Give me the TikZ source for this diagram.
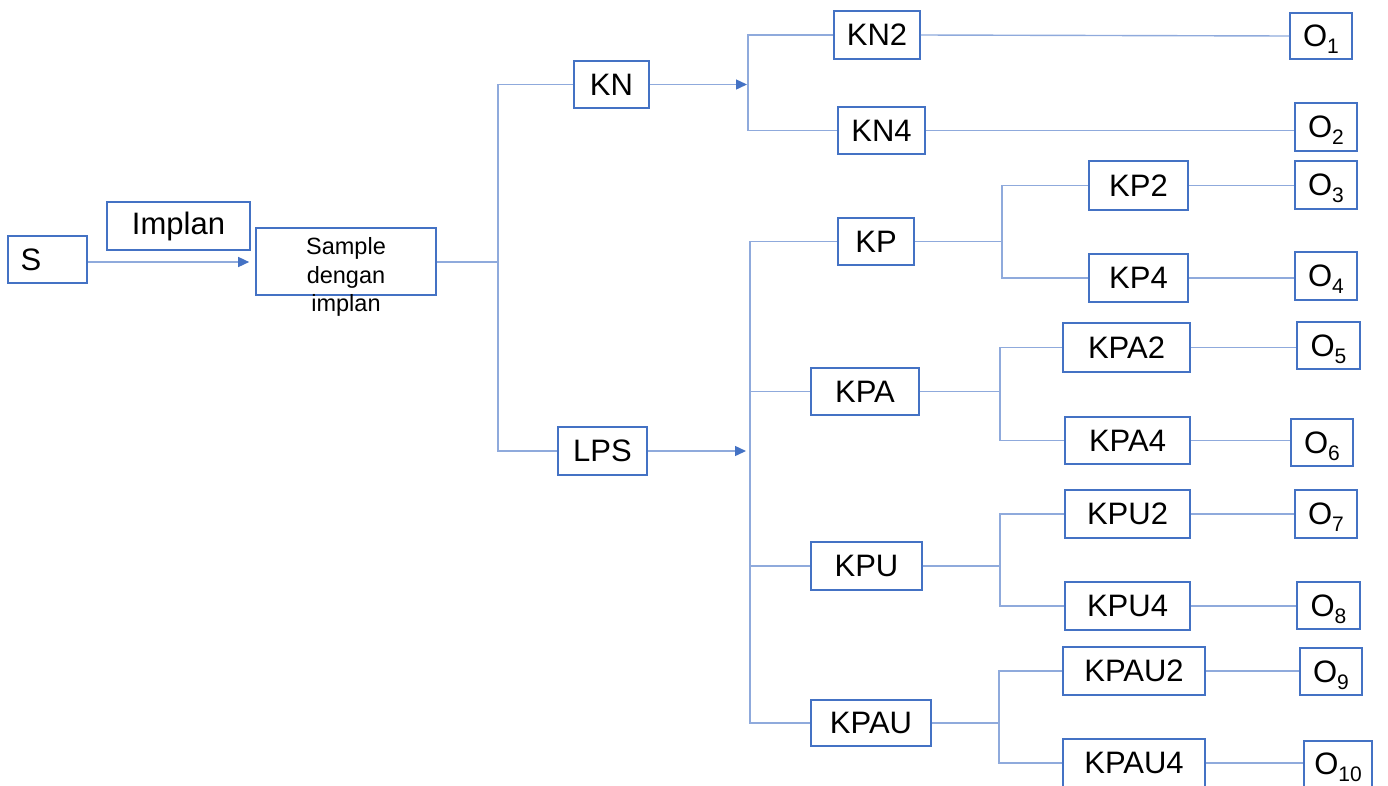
\documentclass[tikz,border=0pt]{standalone}
\usepackage{fontspec}
\setmainfont{Liberation Sans}
\usetikzlibrary{arrows.meta}
\definecolor{boxc}{HTML}{4472C4}
\definecolor{linec}{HTML}{8FAADC}
\newcommand\osub[1]{O\smash{\raisebox{-7pt}{\fontsize{21}{21}\selectfont #1}}}
\begin{document}
\begin{tikzpicture}[x=1pt,y=-1pt,
  box/.style={draw=boxc,line width=1.6pt,inner sep=0pt,font=\fontsize{31}{34}\selectfont},
  conn/.style={draw=linec,line width=1.4pt},
  arr/.style={conn,-{Triangle[length=11pt,width=10pt,fill=boxc,color=boxc]}}]
\useasboundingbox (0,0) rectangle (1388,785);
% left part
\node[box,minimum width=79,minimum height=47,text width=54,align=left] (s) at (47.5,259.5) {S};
\node[box,minimum width=143,minimum height=48] (implan) at (178.5,226) {Implan};
\node[box,minimum width=180,minimum height=67] (smp) at (346,261.5) {};
\node[font=\fontsize{23.5}{28.5}\selectfont,align=center,inner sep=0pt] (smptxt) at (346,277) {Sample\\dengan\\implan};
% level 1
\node[box,minimum width=75,minimum height=47] (kn) at (611.5,84.5) {KN};
\node[box,minimum width=89,minimum height=48] (lps) at (602.5,451) {LPS};
% KN branch
\node[box,minimum width=86,minimum height=48] (kn2) at (877,35) {KN2};
\node[box,minimum width=87,minimum height=47] (kn4) at (881.5,130.5) {KN4};
\node[box,minimum width=62,minimum height=46] (o1) at (1321,36) {\osub{1}};
\node[box,minimum width=62,minimum height=48] (o2) at (1326,127) {\osub{2}};
% LPS branch
\node[box,minimum width=76,minimum height=47] (kp) at (876,241.5) {KP};
\node[box,minimum width=108,minimum height=47] (kpa) at (865,391.5) {KPA};
\node[box,minimum width=111,minimum height=48] (kpu) at (866.5,566) {KPU};
\node[box,minimum width=120,minimum height=46] (kpau) at (871,723) {KPAU};
% third level
\node[box,minimum width=99,minimum height=49] (kp2) at (1138.5,185.5) {KP2};
\node[box,minimum width=99,minimum height=48] (kp4) at (1138.5,278) {KP4};
\node[box,minimum width=127,minimum height=49] (kpa2) at (1126.5,347.5) {KPA2};
\node[box,minimum width=125,minimum height=47] (kpa4) at (1127.5,440.5) {KPA4};
\node[box,minimum width=125,minimum height=48] (kpu2) at (1127.5,514) {KPU2};
\node[box,minimum width=125,minimum height=48] (kpu4) at (1127.5,606) {KPU4};
\node[box,minimum width=142,minimum height=48] (kpau2) at (1134,671) {KPAU2};
\node[box,minimum width=142,minimum height=48] (kpau4) at (1134,763) {KPAU4};
% outputs
\node[box,minimum width=62,minimum height=48] (o3) at (1326,185) {\osub{3}};
\node[box,minimum width=62,minimum height=48] (o4) at (1326,276) {\osub{4}};
\node[box,minimum width=63,minimum height=47] (o5) at (1328.5,345.5) {\osub{5}};
\node[box,minimum width=62,minimum height=47] (o6) at (1322,442.5) {\osub{6}};
\node[box,minimum width=62,minimum height=48] (o7) at (1326,514) {\osub{7}};
\node[box,minimum width=63,minimum height=47] (o8) at (1328.5,605.5) {\osub{8}};
\node[box,minimum width=62,minimum height=47] (o9) at (1331,671.5) {\osub{9}};
\node[box,minimum width=68,minimum height=46] (o10) at (1338,764) {\osub{10}};
% branch points
\coordinate (t1) at (498,262);
\coordinate (b0) at (748,84.5);
\coordinate (b1) at (750,451);
\coordinate (b2) at (1002,241.5);
\coordinate (b3) at (1000,391.5);
\coordinate (b4) at (1000,566);
\coordinate (b5) at (999,723);
% connectors
\draw[arr] (s.east |- 0,262) -- ([xshift=-6pt]smp.west |- 0,262);
\draw[conn] (smp.east |- t1) -- (t1);
\draw[conn] (kn.west) -| (t1) |- (lps.west);
\draw[arr] (kn.east) -- ([xshift=-1pt]b0);
\draw[conn] (kn2.west) -| (b0) |- (kn4.west);
\draw[arr] (lps.east) -- ([xshift=-4pt]b1);
\draw[conn] (kp.west) -| (b1) |- (kpau.west);
\draw[conn] (b1 |- kpa.west) -- (kpa.west);
\draw[conn] (b1 |- kpu.west) -- (kpu.west);
\draw[conn] (kp.east) -- (b2);
\draw[conn] (kp2.west) -| (b2) |- (kp4.west);
\draw[conn] (kpa.east) -- (b3);
\draw[conn] (kpa2.west) -| (b3) |- (kpa4.west);
\draw[conn] (kpu.east) -- (b4);
\draw[conn] (kpu2.west) -| (b4) |- (kpu4.west);
\draw[conn] (kpau.east) -- (b5);
\draw[conn] (kpau2.west) -| (b5) |- (kpau4.west);
\draw[conn] (kn2.east) -- (o1.west);
\draw[conn] (kn4.east) -- (o2.west |- kn4.east);
\draw[conn] (kp2.east) -- (o3.west |- kp2.east);
\draw[conn] (kp4.east) -- (o4.west |- kp4.east);
\draw[conn] (kpa2.east) -- (o5.west |- kpa2.east);
\draw[conn] (kpa4.east) -- (o6.west |- kpa4.east);
\draw[conn] (kpu2.east) -- (o7.west |- kpu2.east);
\draw[conn] (kpu4.east) -- (o8.west |- kpu4.east);
\draw[conn] (kpau2.east) -- (o9.west |- kpau2.east);
\draw[conn] (kpau4.east) -- (o10.west |- kpau4.east);
\end{tikzpicture}
\end{document}
